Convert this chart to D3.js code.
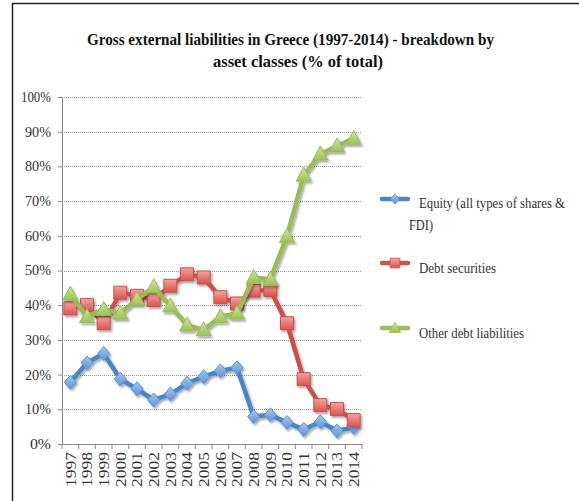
<!DOCTYPE html>
<html><head><meta charset="utf-8">
<script src="https://cdn.jsdelivr.net/npm/d3@7"></script>
<style>body{margin:0;background:#fff}svg{display:block}</style>
</head><body>
<svg id="c" width="579" height="501"></svg>
<script>
const years = ["1997","1998","1999","2000","2001","2002","2003","2004","2005","2006","2007","2008","2009","2010","2011","2012","2013","2014"];
const equity = [17.8,23.4,26.1,18.7,15.9,12.7,14.4,17.5,19.4,21.1,22.0,7.9,8.4,6.2,4.2,6.4,3.8,4.8];
const debtSecurities = [39.1,40.1,34.8,43.6,42.7,41.5,45.6,48.9,48.0,42.3,40.5,44.2,44.4,34.8,18.7,11.2,10.1,6.9];
const otherDebt = [43.2,36.7,38.8,37.7,41.7,45.3,39.8,34.3,32.9,36.7,37.7,48.0,47.5,59.9,77.5,83.6,85.9,88.1];
const yTicks = [0,10,20,30,40,50,60,70,80,90,100];
const seriesNames = ["Equity (all types of shares & FDI)","Debt securities","Other debt liabilities"];

const FONT = '"Liberation Serif"';
const svg = d3.select("#c");
// frame
svg.append("line").attr("x1",12.5).attr("x2",579).attr("y1",3.5).attr("y2",3.5).attr("stroke","#222").attr("stroke-width",1.5);
svg.append("line").attr("x1",12.5).attr("x2",12.5).attr("y1",3).attr("y2",501).attr("stroke","#222").attr("stroke-width",1.5);

svg.append("text").attr("x",290.5).attr("y",45).attr("text-anchor","middle").style("font-family",FONT).attr("font-weight","bold").attr("font-size",17.5).attr("fill","#111")
  .attr("textLength",407).attr("lengthAdjust","spacingAndGlyphs").text("Gross external liabilities in Greece (1997-2014) - breakdown by");
svg.append("text").attr("x",298).attr("y",67).attr("text-anchor","middle").style("font-family",FONT).attr("font-weight","bold").attr("font-size",17.5).attr("fill","#111")
  .attr("textLength",170).attr("lengthAdjust","spacingAndGlyphs").text("asset classes (% of total)");

const x = d3.scaleBand().domain(years).range([62,362]);
const y = d3.scaleLinear().domain([0,100]).range([444,97]);

const defs = svg.append("defs");
const f = defs.append("filter").attr("id","sh").attr("x","-50%").attr("y","-50%").attr("width","200%").attr("height","200%");
f.append("feDropShadow").attr("dx",1.5).attr("dy",2).attr("stdDeviation",1.2).attr("flood-color","#000").attr("flood-opacity",0.35);
function grad(id,c1,c2){const g=defs.append("linearGradient").attr("id",id).attr("x1",0).attr("y1",0).attr("x2",0).attr("y2",1);g.append("stop").attr("offset","0%").attr("stop-color",c1);g.append("stop").attr("offset","100%").attr("stop-color",c2);}
grad("gb","#a9c8ee","#5b93d6");
grad("gr","#f4a3a0","#d9534f");
grad("gg","#d2e6a2","#9bc255");

// grid
svg.append("g").selectAll("line").data(yTicks.filter(d=>d>0)).join("line")
  .attr("x1",62).attr("x2",362).attr("y1",d=>Math.round(y(d))+0.5).attr("y2",d=>Math.round(y(d))+0.5)
  .attr("stroke","#999").attr("stroke-width",1).attr("stroke-dasharray","1,1");

// axes
const yAxis = svg.append("g").attr("transform","translate(62,0)").call(d3.axisLeft(y).tickValues(yTicks).tickFormat(d=>d+"%").tickSize(4).tickSizeOuter(0));
yAxis.select(".domain").attr("stroke","#888");
yAxis.selectAll(".tick line").attr("stroke","#888");
yAxis.selectAll("text").style("font-family",FONT).attr("font-size",14).attr("fill","#333").attr("x",-11)
  .attr("textLength",d=>d===100?30:d===0?21:26).attr("lengthAdjust","spacingAndGlyphs");

const xAxis = svg.append("g").attr("transform","translate(0,444)").call(d3.axisBottom(x).tickSize(0).tickSizeOuter(0));
xAxis.select(".domain").attr("stroke","#888");
xAxis.selectAll("text").style("font-family",FONT).attr("font-size",15).attr("fill","#333")
  .attr("transform","rotate(-90)").attr("text-anchor","end").attr("x",-8).attr("y",0).attr("dy","0.35em")
  .attr("textLength",35).attr("lengthAdjust","spacingAndGlyphs");
// ticks at category boundaries
svg.append("g").selectAll("line").data(d3.range(years.length+1)).join("line")
  .attr("x1",i=>62+i*x.step()).attr("x2",i=>62+i*x.step()).attr("y1",444).attr("y2",449).attr("stroke","#888");

const cx = d=>x(d)+x.bandwidth()/2;
const series = [
  {vals:equity, color:"#4a86c8", fill:"url(#gb)", stroke:"#5b93d6", shape:"diamond"},
  {vals:debtSecurities, color:"#c9504d", fill:"url(#gr)", stroke:"#c9504d", shape:"square"},
  {vals:otherDebt, color:"#9bbb59", fill:"url(#gg)", stroke:"#9bbb59", shape:"triangle"}
];
function markerPath(shape){
  if(shape==="diamond") return "M0,-7L6,0L0,7L-6,0Z";
  if(shape==="square") return "M-6.5,-6.5H6.5V6.5H-6.5Z";
  return "M0,-8L7.5,6L-7.5,6Z";
}
const line = d3.line().x((d,i)=>cx(years[i])).y(d=>y(d));
series.forEach(s=>{
  const g = svg.append("g").attr("filter","url(#sh)");
  g.append("path").attr("d",line(s.vals)).attr("fill","none").attr("stroke",s.color).attr("stroke-width",4.5).attr("stroke-linejoin","round");
  g.selectAll("path.m").data(s.vals).join("path").attr("class","m")
    .attr("transform",(d,i)=>`translate(${cx(years[i])},${y(d)})`)
    .attr("d",markerPath(s.shape)).attr("fill",s.fill).attr("stroke",s.stroke).attr("stroke-width",1);
});

// legend
const legY = [199,263,328];
series.forEach((s,i)=>{
  const g = svg.append("g").attr("transform",`translate(395,${legY[i]})`);
  g.append("line").attr("x1",-13).attr("x2",13).attr("y1",0).attr("y2",0).attr("stroke",s.color).attr("stroke-width",4.5).attr("stroke-linecap","round");
  g.append("path").attr("d",markerPath(s.shape)).attr("transform","scale(0.75)").attr("fill",s.fill).attr("stroke",s.stroke);
});
const lt = svg.append("g").attr("font-size",15).attr("fill","#333");
function lg(xx,yy,txt,w){lt.append("text").attr("x",xx).attr("y",yy).style("font-family",FONT).attr("textLength",w).attr("lengthAdjust","spacingAndGlyphs").text(txt);}
lg(419,208,"Equity (all types of  shares &",146);
lg(409,230,"FDI)",24);
lg(419,273,seriesNames[1],77);
lg(419,338,seriesNames[2],105);
</script>
</body></html>
